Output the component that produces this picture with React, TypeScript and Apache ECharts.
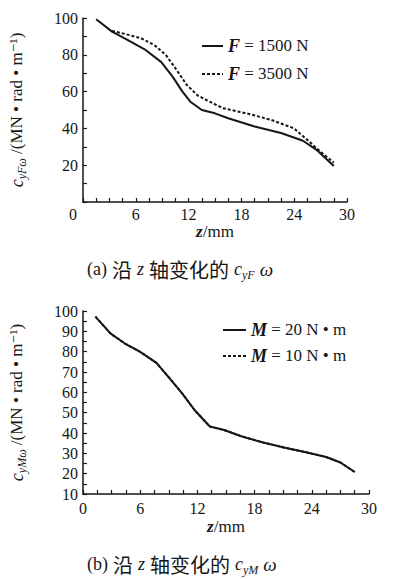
import React, { useEffect, useRef } from "react";
import * as echarts from "echarts";

// ---- data ----
// (a) c_yFω along z
const zF1500 = [1.5, 3.3, 5.1, 7.0, 8.9, 10.2, 11.3, 12.2, 13.5, 15.0, 16.5, 19.5, 22.5, 25.0, 26.5, 28.5];
const cF1500 = [99.3, 92.6, 88, 83, 76, 68, 60, 54.5, 50, 48.2, 45.5, 41, 37.5, 33.3, 28.5, 19.6];
const zF3500 = [3.3, 4.8, 6.6, 8.1, 9.4, 10.6, 11.8, 13.0, 14.4, 15.9, 18.9, 21.4, 24.0, 25.5, 27.0, 28.5];
const cF3500 = [93, 91.3, 89, 85.3, 80, 72, 63.6, 58, 54.5, 51, 47.8, 44.6, 40, 33.7, 27.3, 21.4];
// (b) c_yMω along z
const zM20 = [1.3, 2.9, 4.4, 6.0, 7.7, 8.8, 10.4, 11.7, 13.3, 14.8, 16.6, 18.9, 21.2, 23.4, 25.5, 27.0, 28.5];
const cM20 = [97.2, 88.9, 84, 79.9, 74.5, 68.5, 59.5, 51.3, 43.2, 41.5, 38.4, 35.3, 32.7, 30.5, 28.2, 25.5, 20.8];
const zM10 = [1.3, 2.9, 4.4, 6.0, 7.7, 8.8, 10.4, 11.7, 13.3, 14.8, 16.6, 18.9, 21.2, 23.4, 25.5, 27.0, 28.5];
const cM10 = [97.2, 88.9, 84, 79.9, 74.5, 68.5, 59.5, 51.3, 43.2, 41.5, 38.4, 35.3, 32.7, 30.5, 28.2, 25.5, 20.8];

const X_LABEL_STEP = 6;
const YA_LABEL_STEP = 20;
const YB_LABEL_STEP = 10;

const LEGEND_A: Record<string, string> = {
  F1500: "{i|F} = 1500 N",
  F3500: "{i|F} = 3500 N",
};
const LEGEND_B: Record<string, string> = {
  M20: "{i|M} = 20 N • m",
  M10: "{i|M} = 10 N • m",
};

const FONT = "'Liberation Serif', 'DejaVu Serif', 'Noto Sans CJK SC', serif";
const CJK = "'Noto Sans CJK SC', 'Liberation Serif', serif";
const INK = "#161616";

const pairs = (xs: number[], ys: number[]) => xs.map((x, i) => [x, ys[i]]);
const isMult = (v: number, m: number) => Math.abs(v / m - Math.round(v / m)) < 1e-6;

const nameRich = {
  c: { fontFamily: FONT, fontStyle: "italic", fontSize: 18, color: INK, lineHeight: 22, verticalAlign: "middle" },
  s: { fontFamily: FONT, fontStyle: "italic", fontSize: 12, color: INK, lineHeight: 12, verticalAlign: "bottom" },
  n: { fontFamily: FONT, fontSize: 17, color: INK, lineHeight: 22, verticalAlign: "middle" },
};

function xAxisCfg(gridIndex: number, shiftZero: boolean, margin: number, nameGap: number) {
  return {
    gridIndex,
    type: "value",
    min: 0,
    max: 30,
    interval: 1.5,
    axisLine: { onZero: false, lineStyle: { color: INK, width: 1.5 } },
    axisTick: { inside: true, length: 4, lineStyle: { color: INK, width: 1.2 } },
    axisLabel: {
      color: INK,
      fontFamily: FONT,
      fontSize: 16,
      margin,
      formatter: (v: number) => {
        if (!isMult(v, X_LABEL_STEP)) return "";
        if (v === 0 && shiftZero) return "{o|0}";
        return String(Math.round(v));
      },
      rich: { o: { fontFamily: FONT, fontSize: 16, color: INK, padding: [0, 20, 0, 0] } },
    },
    splitLine: { show: false },
    name: "{z|z}{t|/mm}",
    nameLocation: "middle",
    nameGap,
    nameTextStyle: {
      rich: {
        z: { fontFamily: FONT, fontStyle: "italic", fontWeight: "bold", fontSize: 17, color: INK },
        t: { fontFamily: FONT, fontSize: 17, color: INK },
      },
    },
  };
}

function yAxisCfg(gridIndex: number, min: number, interval: number, step: number, sub: string, nameGap: number) {
  return {
    gridIndex,
    type: "value",
    min,
    max: 100,
    interval,
    axisLine: { show: true, onZero: false, lineStyle: { color: INK, width: 1.5 } },
    axisTick: { show: true, inside: true, length: 4, lineStyle: { color: INK, width: 1.2 } },
    axisLabel: {
      color: INK,
      fontFamily: FONT,
      fontSize: 16,
      margin: 5,
      formatter: (v: number) => (v > 0 && isMult(v, step) ? String(Math.round(v)) : ""),
    },
    splitLine: { show: false },
    name: `{c|c}{s|${sub}}{n| /(MN • rad • m⁻¹)}`,
    nameLocation: "middle",
    nameRotate: 90,
    nameGap,
    nameTextStyle: { rich: nameRich },
  };
}

const captionRich = {
  p: { fontFamily: FONT, fontSize: 18, color: INK, fontWeight: "normal" },
  h: { fontFamily: CJK, fontSize: 20, color: INK, fontWeight: "normal" },
  z: { fontFamily: FONT, fontStyle: "italic", fontSize: 18, color: INK, fontWeight: "normal" },
  c: { fontFamily: FONT, fontStyle: "italic", fontSize: 18, color: INK, fontWeight: "normal", lineHeight: 24, verticalAlign: "middle" },
  s: { fontFamily: FONT, fontStyle: "italic", fontSize: 12, color: INK, fontWeight: "normal", lineHeight: 12, verticalAlign: "bottom" },
  w: { fontFamily: FONT, fontStyle: "italic", fontSize: 19, color: INK, fontWeight: "normal" },
};

const legendText = () => ({
  fontFamily: FONT,
  fontSize: 17,
  color: INK,
  rich: {
    i: { fontFamily: FONT, fontStyle: "italic", fontWeight: "bold", fontSize: 18, color: INK },
  },
});

export default function App() {
  const ref = useRef<HTMLDivElement>(null);

  useEffect(() => {
    if (!ref.current) return;
    const chart = echarts.init(ref.current, undefined, { renderer: "svg" });
    chart.setOption({
      animation: false,
      backgroundColor: "#ffffff",
      title: [
        {
          text: "{p|(a)} {h|沿} {z|z} {h|轴变化的} {c|c}{s|yF} {w|ω}",
          left: 87,
          top: 257,
          padding: 0,
          textStyle: { fontWeight: "normal", rich: captionRich },
        },
        {
          text: "{p|(b)} {h|沿} {z|z} {h|轴变化的} {c|c}{s|yM} {w|ω}",
          left: 87,
          top: 552,
          padding: 0,
          textStyle: { fontWeight: "normal", rich: captionRich },
        },
      ],
      legend: [
        {
          data: ["F1500", "F3500"],
          orient: "vertical",
          left: 196,
          top: 32,
          itemWidth: 21,
          itemHeight: 14,
          itemGap: 10,
          itemStyle: { opacity: 0 },
          formatter: (n: string) => LEGEND_A[n],
          textStyle: legendText(),
        },
        {
          data: ["M20", "M10"],
          orient: "vertical",
          left: 217,
          top: 316,
          itemWidth: 23,
          itemHeight: 14,
          itemGap: 8,
          itemStyle: { opacity: 0 },
          formatter: (n: string) => LEGEND_B[n],
          textStyle: legendText(),
        },
      ],
      grid: [
        { left: 77, top: 18, width: 270, height: 184 },
        { left: 79, top: 311, width: 290, height: 183 },
      ],
      xAxis: [xAxisCfg(0, true, 4, 21), xAxisCfg(1, false, 6, 24)],
      yAxis: [
        yAxisCfg(0, 0, 10, YA_LABEL_STEP, "yFω", 55),
        yAxisCfg(1, 10, 5, YB_LABEL_STEP, "yMω", 55),
      ],
      series: [
        {
          name: "F3500",
          type: "line",
          xAxisIndex: 0,
          yAxisIndex: 0,
          data: pairs(zF3500, cF3500),
          symbol: "none",
          z: 2,
          lineStyle: { color: INK, width: 2, type: [3, 2] },
          itemStyle: { color: INK },
        },
        {
          name: "F1500",
          type: "line",
          xAxisIndex: 0,
          yAxisIndex: 0,
          data: pairs(zF1500, cF1500),
          symbol: "none",
          z: 3,
          lineStyle: { color: INK, width: 2, type: "solid" },
          itemStyle: { color: INK },
        },
        {
          name: "M10",
          type: "line",
          xAxisIndex: 1,
          yAxisIndex: 1,
          data: pairs(zM10, cM10),
          symbol: "none",
          z: 2,
          lineStyle: { color: INK, width: 2, type: [3, 2] },
          itemStyle: { color: INK },
        },
        {
          name: "M20",
          type: "line",
          xAxisIndex: 1,
          yAxisIndex: 1,
          data: pairs(zM20, cM20),
          symbol: "none",
          z: 3,
          lineStyle: { color: INK, width: 2, type: "solid" },
          itemStyle: { color: INK },
        },
      ],
    });
    return () => chart.dispose();
  }, []);

  return (
    <div
      ref={ref}
      style={{ position: "fixed", left: 0, top: 0, width: 397, height: 579, background: "#fff" }}
    />
  );
}
